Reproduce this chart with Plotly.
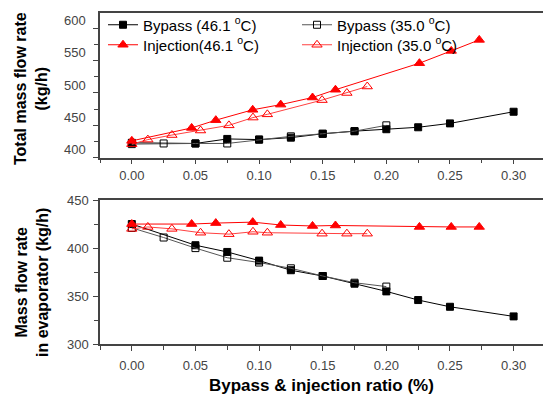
import plotly.graph_objects as go

# ---- data ----
x_bp46 = [0.0, 0.05, 0.075, 0.10, 0.125, 0.15, 0.175, 0.20, 0.225, 0.25, 0.30]
tot_bp46 = [423, 422, 429, 428, 431, 437, 441, 444, 447, 453, 471]
evap_bp46 = [425, 403, 396, 387, 377, 371, 363, 355, 346, 339, 329]

x_bp35 = [0.0, 0.025, 0.05, 0.075, 0.10, 0.125, 0.15, 0.175, 0.20]
tot_bp35 = [421, 422, 422, 422, 428, 433, 437, 441, 450]
evap_bp35 = [421, 411, 400, 390, 385, 379, 371, 364, 360]

x_inj46 = [0.0, 0.047, 0.066, 0.095, 0.117, 0.142, 0.160, 0.226, 0.251, 0.273]
tot_inj46 = [426, 446, 458, 474, 482, 493, 505, 546, 565, 582]
evap_inj46 = [425, 425, 426, 427, 424, 423, 423.5, 422, 422, 422]

x_inj35 = [0.0, 0.0126, 0.0315, 0.054, 0.0763, 0.0952, 0.1065, 0.1495, 0.169, 0.185]
tot_inj35 = [421, 428, 435, 442, 450, 462, 467, 489, 500, 510]
evap_inj35 = [420, 422, 420, 416, 414.5, 417, 416, 415, 415, 415]

names = ["Bypass (46.1 <sup>o</sup>C)", "Bypass (35.0 <sup>o</sup>C)",
         "Injection(46.1 <sup>o</sup>C)", "Injection (35.0 <sup>o</sup>C)"]

W, H = 543, 396
L = 100
PW = W - L
FONT = "Arial, Liberation Sans, sans-serif"


def px_x(p):
    return (p - L) / PW


def px_y(p):
    return 1 - p / H


styles = {
    "bp46": dict(line=dict(color="black", width=1),
                 marker=dict(symbol="square", size=7, color="black", line=dict(color="black", width=1))),
    "bp35": dict(line=dict(color="#555555", width=1),
                 marker=dict(symbol="square-open", size=7, color="black", line=dict(width=1))),
    "inj46": dict(line=dict(color="#ff0000", width=1),
                  marker=dict(symbol="triangle-up", size=9, color="#ff0000", line=dict(color="#ff0000", width=1))),
    "inj35": dict(line=dict(color="#ff4040", width=1),
                  marker=dict(symbol="triangle-up-open", size=9, color="#ff0000", line=dict(width=1))),
}

fig = go.Figure()

series = [
    ("bp46", x_bp46, tot_bp46, evap_bp46, names[0], "legend", 1),
    ("bp35", x_bp35, tot_bp35, evap_bp35, names[1], "legend", 2),
    ("inj35", x_inj35, tot_inj35, evap_inj35, names[3], "legend2", 2),
    ("inj46", x_inj46, tot_inj46, evap_inj46, names[2], "legend2", 1),
]

for key, xs, ytop, ybot, nm, lg, rank in series:
    fig.add_trace(go.Scatter(x=xs, y=ytop, mode="lines+markers", name=nm,
                             legend=lg, legendrank=rank, xaxis="x", yaxis="y",
                             **styles[key]))
    fig.add_trace(go.Scatter(x=xs, y=ybot, mode="lines+markers", name=nm,
                             showlegend=False, xaxis="x2", yaxis="y2",
                             **styles[key]))

AX = "#444444"
common_x = dict(range=[-0.025, 0.3231], tickvals=[0, 0.05, 0.10, 0.15, 0.20, 0.25, 0.30],
                ticktext=["0.00", "0.05", "0.10", "0.15", "0.20", "0.25", "0.30"],
                ticks="outside", ticklen=5, tickwidth=1, tickcolor=AX,
                minor=dict(dtick=0.025, tick0=0, ticks="outside", ticklen=4, tickcolor=AX),
                showline=True, linecolor=AX, linewidth=1.5, mirror=True,
                showgrid=False, zeroline=False, automargin=False,
                tickfont=dict(family=FONT, size=13, color="#444444"),
                domain=[0, 1])
common_y = dict(ticks="outside", ticklen=5, tickwidth=1, tickcolor=AX,
                showline=True, linecolor=AX, linewidth=1.5, mirror=False,
                showgrid=False, zeroline=False, automargin=False,
                tickfont=dict(family=FONT, size=13, color="#444444"))

leg_common = dict(orientation="h", xanchor="left", yanchor="middle",
                  entrywidth=149, entrywidthmode="pixels", bgcolor="rgba(0,0,0,0)",
                  font=dict(family=FONT, size=15, color="black"), tracegroupgap=0)

fig.update_layout(
    width=W, height=H,
    margin=dict(l=L, r=0, t=0, b=0),
    paper_bgcolor="white", plot_bgcolor="white",
    font=dict(family=FONT, color="black"),
    xaxis=dict(anchor="y", **common_x),
    xaxis2=dict(anchor="y2", ticklabelstandoff=3, **common_x),
    yaxis=dict(anchor="x", range=[400, 624], tickvals=[400, 450, 500, 550, 600],
               minor=dict(dtick=25, tick0=400, ticks="outside", ticklen=4, tickcolor=AX),
               ticklabelshift=-8, ticklabelstandoff=5,
               domain=[px_y(157.7), px_y(12.7)], **common_y),
    yaxis2=dict(anchor="x2", range=[300, 450], tickvals=[300, 350, 400, 450],
                minor=dict(dtick=25, tick0=300, ticks="outside", ticklen=4, tickcolor=AX),
                ticklabelstandoff=2,
                domain=[px_y(344.3), px_y(200)], **common_y),
    legend=dict(x=px_x(103), y=px_y(25), **leg_common),
    legend2=dict(x=px_x(103), y=px_y(45), **leg_common),
    annotations=[
        dict(text="<b>Total mass flow rate<br>(kg/h)</b>", x=px_x(31), y=px_y(89),
             xref="paper", yref="paper", textangle=-90, showarrow=False,
             font=dict(family=FONT, size=16, color="black"), xanchor="center", yanchor="middle"),
        dict(text="<b>Mass flow rate<br>in evaporator (kg/h)</b>", x=px_x(32), y=px_y(283),
             xref="paper", yref="paper", textangle=-90, showarrow=False,
             font=dict(family=FONT, size=16, color="black"), xanchor="center", yanchor="middle"),
        dict(text="<b>Bypass &amp; injection ratio (%)</b>", x=px_x(321.7), y=px_y(385.5),
             xref="paper", yref="paper", showarrow=False,
             font=dict(family=FONT, size=17, color="black"), xanchor="center", yanchor="middle"),
    ],
)

fig.write_html("out.html")
